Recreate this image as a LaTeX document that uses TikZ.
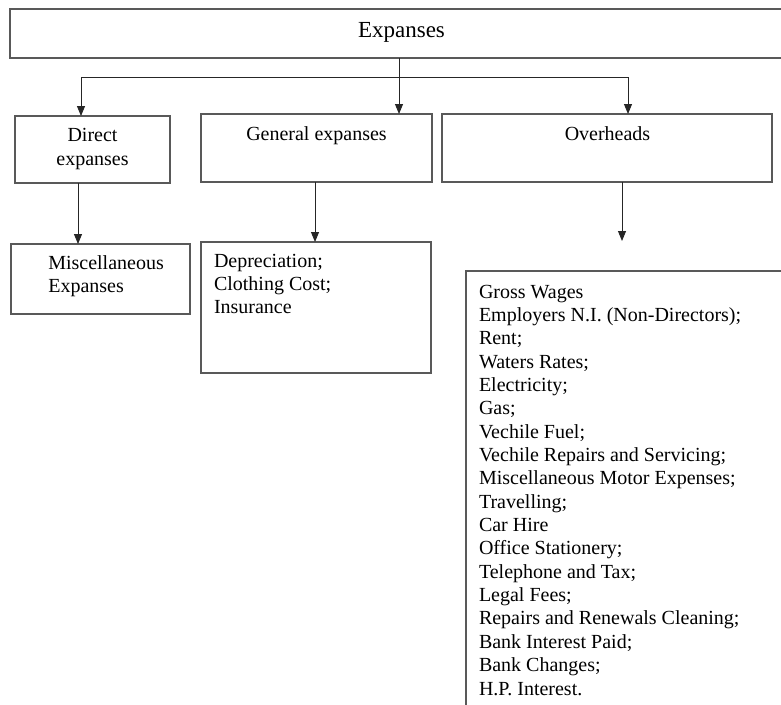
\documentclass[tikz,border=0pt]{standalone}
\usepackage{fontspec}
\setmainfont{Liberation Serif}
\usetikzlibrary{arrows.meta}
\tikzset{
  boxline/.style={draw=black!65, line width=1.1pt, rectangle, inner sep=0pt, outer sep=0pt},
  conn/.style={draw=black!85, line width=0.9pt},
  arr/.style={conn, -{Triangle[length=10pt,width=8pt]}},
  lbl/.style={inner sep=0pt, outer sep=0pt, font=\fontsize{20}{23.3}\selectfont},
  biglbl/.style={inner sep=0pt, outer sep=0pt, font=\fontsize{23}{27}\selectfont},
  listlbl/.style={inner sep=0pt, outer sep=0pt, align=left, anchor=north west, font=\fontsize{20}{23.35}\selectfont}
}
\begin{document}
\begin{tikzpicture}[x=1pt,y=-1pt]
\useasboundingbox (0,0) rectangle (781,704);
\clip (0,0) rectangle (781,704);
\fill[white] (0,0) rectangle (781,704);

% boxes
\node[boxline, minimum width=785pt, minimum height=49pt] (top) at (402.5,33.5) {};
\node[boxline, minimum width=155pt, minimum height=67pt] (dir) at (92.5,149.5) {};
\node[boxline, minimum width=231pt, minimum height=68pt] (gen) at (316.5,148) {};
\node[boxline, minimum width=330pt, minimum height=68pt] (over) at (607,148) {};
\node[boxline, minimum width=179pt, minimum height=70pt] (misc) at (100.5,279) {};
\node[boxline, minimum width=230pt, minimum height=131pt] (genl) at (316,307.5) {};
\node[boxline, minimum width=334pt, minimum height=449pt] (overl) at (633,495.5) {};

% texts
\node[biglbl, anchor=base] (tExp) at (401.5,37.3) {Expanses};
\node[lbl, align=center, anchor=north] (tDir) at (92.5,125.4) {\strut Direct\\expanses};
\node[lbl, anchor=base] (tGen) at (316.5,140) {General expanses};
\node[lbl, anchor=base] (tOver) at (607.5,140) {Overheads};
\node[lbl, align=left, anchor=north west] (tMisc) at (48.3,252.7) {\strut Miscellaneous\\Expanses};
\node[lbl, align=left, anchor=north west] (tGenL) at (214,251) {\strut Depreciation;\\Clothing Cost;\\Insurance};
\node[listlbl] (tOverL) at (479,281.7) {\strut Gross Wages\\
Employers N.I. (Non-Directors);\\
Rent;\\
Waters Rates;\\
Electricity;\\
Gas;\\
Vechile Fuel;\\
Vechile Repairs and Servicing;\\
Miscellaneous Motor Expenses;\\
Travelling;\\
Car Hire\\
Office Stationery;\\
Telephone and Tax;\\
Legal Fees;\\
Repairs and Renewals Cleaning;\\
Bank Interest Paid;\\
Bank Changes;\\
H.P. Interest.};

% connector coordinates
\coordinate (j) at (399,77);
\coordinate (hl) at (81,77);
\coordinate (hr) at (628,77);
\coordinate (c1) at (78,0);
\coordinate (c2) at (315,0);
\coordinate (oend) at (622,241);

% connectors
\draw[arr] (top.south -| j) -- (gen.north -| j);
\draw[conn] (hl) -- (hr);
\draw[arr] (hl) -- (dir.north -| hl);
\draw[arr] (hr) -- (over.north -| hr);
\draw[arr] (dir.south -| c1) -- (misc.north -| c1);
\draw[arr] (gen.south -| c2) -- (genl.north -| c2);
\draw[arr] (over.south -| oend) -- (oend);
\end{tikzpicture}
\end{document}
